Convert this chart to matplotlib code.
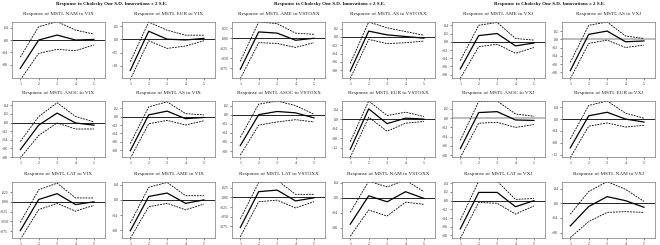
import matplotlib
matplotlib.use("Agg")
import matplotlib.pyplot as plt

plt.rcParams['font.family'] = ['Liberation Serif', 'DejaVu Serif']

periods = [1, 2, 3, 4, 5]
group_title = "Response to Cholesky One S.D. Innovations \u00b1 2 S.E."

# ---- Group 1 (VIX) ----
nam_vix_title = "Response of MSTL NAM to VIX"
nam_vix_resp = [-0.091, 0.000, 0.016, 0.000, 0.002]
nam_vix_hi = [-0.055, 0.043, 0.059, 0.032, 0.019]
nam_vix_lo = [-0.128, -0.043, -0.030, -0.034, -0.016]
nam_vix_ticks = [0.04, 0.00, -0.04, -0.08]

eur_vix_title = "Response of MSTL EUR to VIX"
eur_vix_resp = [-0.117, 0.031, 0.001, -0.002, 0.004]
eur_vix_hi = [-0.084, 0.066, 0.035, 0.016, 0.016]
eur_vix_lo = [-0.152, -0.005, -0.034, -0.025, -0.005]
eur_vix_ticks = [0.05, 0.00, -0.05, -0.10]

asoc_vix_title = "Response of MSTL ASOC to VIX"
asoc_vix_resp = [-0.063, -0.006, 0.022, -0.001, -0.006]
asoc_vix_hi = [-0.044, 0.014, 0.046, 0.014, 0.0015]
asoc_vix_lo = [-0.082, -0.030, -0.001, -0.015, -0.015]
asoc_vix_ticks = [0.04, 0.02, 0.00, -0.02, -0.04, -0.06, -0.08]

as_vix_title = "Response of MSTL AS to VIX"
as_vix_resp = [-0.081, 0.004, 0.013, -0.005, -0.002]
as_vix_hi = [-0.064, 0.023, 0.035, 0.007, 0.004]
as_vix_lo = [-0.099, -0.017, -0.009, -0.020, -0.010]
as_vix_ticks = [0.02, 0.00, -0.02, -0.04, -0.06, -0.08]

lat_vix_title = "Response of MSTL LAT to VIX"
lat_vix_resp = [-0.074, 0.006, 0.021, -0.007, 0.000]
lat_vix_hi = [-0.053, 0.031, 0.048, 0.010, 0.010]
lat_vix_lo = [-0.097, -0.020, -0.004, -0.024, -0.009]
lat_vix_ticks = [0.025, 0.000, -0.025, -0.050, -0.075]

ame_vix_title = "Response of MSTL AME to VIX"
ame_vix_resp = [-0.081, 0.009, 0.018, -0.009, 0.000]
ame_vix_hi = [-0.061, 0.033, 0.046, 0.011, 0.011]
ame_vix_lo = [-0.101, -0.018, -0.009, -0.026, -0.011]
ame_vix_ticks = [0.04, 0.00, -0.04, -0.08]

# ---- Group 2 (VSTOXX) ----
ame_vst_title = "Response of MSTL AME to VSTOXX"
ame_vst_resp = [-0.078, 0.016, 0.013, -0.005, 0.000]
ame_vst_hi = [-0.058, 0.041, 0.037, 0.013, 0.010]
ame_vst_lo = [-0.102, -0.011, -0.013, -0.023, -0.011]
ame_vst_ticks = [0.025, 0.000, -0.025, -0.050, -0.075]

as_vst_title = "Response of MSTL AS to VSTOXX"
as_vst_resp = [-0.082, 0.014, 0.005, 0.001, -0.003]
as_vst_hi = [-0.064, 0.036, 0.022, 0.013, 0.004]
as_vst_lo = [-0.100, -0.006, -0.016, -0.014, -0.010]
as_vst_ticks = [0.02, 0.00, -0.02, -0.04, -0.06, -0.08]

asoc_vst_title = "Response of MSTL ASOC to VSTOXX"
asoc_vst_resp = [-0.068, 0.000, 0.007, 0.004, -0.007]
asoc_vst_hi = [-0.050, 0.023, 0.030, 0.020, 0.001]
asoc_vst_lo = [-0.089, -0.023, -0.016, -0.011, -0.016]
asoc_vst_ticks = [0.02, 0.00, -0.02, -0.04, -0.06, -0.08]

eur_vst_title = "Response of MSTL EUR to VSTOXX"
eur_vst_resp = [-0.127, 0.043, -0.019, 0.004, 0.000]
eur_vst_hi = [-0.095, 0.076, 0.015, 0.029, 0.011]
eur_vst_lo = [-0.160, 0.008, -0.051, -0.017, -0.010]
eur_vst_ticks = [0.04, 0.00, -0.04, -0.08, -0.12]

lat_vst_title = "Response of MSTL LAT to VSTOXX"
lat_vst_resp = [-0.078, 0.015, 0.019, -0.009, -0.001]
lat_vst_hi = [-0.056, 0.039, 0.045, 0.008, 0.008]
lat_vst_lo = [-0.102, -0.011, -0.007, -0.027, -0.011]
lat_vst_ticks = [0.025, 0.000, -0.025, -0.050, -0.075]

nam_vst_title = "Response of MSTL NAM to VSTOXX"
nam_vst_resp = [-0.071, 0.005, -0.011, 0.016, -0.002]
nam_vst_hi = [-0.039, 0.044, 0.029, 0.047, 0.016]
nam_vst_lo = [-0.103, -0.033, -0.049, -0.012, -0.018]
nam_vst_ticks = [0.04, 0.00, -0.04, -0.08]

# ---- Group 3 (VXJ) ----
ame_vxj_title = "Response of MSTL AME to VXJ"
ame_vxj_resp = [-0.066, 0.015, 0.020, -0.010, -0.003]
ame_vxj_hi = [-0.046, 0.040, 0.047, 0.008, 0.004]
ame_vxj_lo = [-0.089, -0.012, -0.006, -0.028, -0.014]
ame_vxj_ticks = [0.04, 0.02, 0.00, -0.02, -0.04, -0.06, -0.08]

as_vxj_title = "Response of MSTL AS to VXJ"
as_vxj_resp = [-0.076, 0.012, 0.020, -0.006, -0.004]
as_vxj_hi = [-0.056, 0.034, 0.042, 0.008, 0.002]
as_vxj_lo = [-0.096, -0.010, -0.002, -0.020, -0.014]
as_vxj_ticks = [0.02, 0.00, -0.02, -0.04, -0.06, -0.08]

asoc_vxj_title = "Response of MSTL ASOC to VXJ"
asoc_vxj_resp = [-0.066, 0.012, 0.014, -0.004, -0.005]
asoc_vxj_hi = [-0.048, 0.036, 0.037, 0.009, 0.004]
asoc_vxj_lo = [-0.085, -0.011, -0.009, -0.020, -0.014]
asoc_vxj_ticks = [0.02, 0.00, -0.02, -0.04, -0.06, -0.08]

eur_vxj_title = "Response of MSTL EUR to VXJ"
eur_vxj_resp = [-0.097, 0.011, 0.023, 0.000, -0.010]
eur_vxj_hi = [-0.067, 0.046, 0.061, 0.020, 0.003]
eur_vxj_lo = [-0.130, -0.024, -0.013, -0.027, -0.021]
eur_vxj_ticks = [0.04, 0.00, -0.04, -0.08, -0.12]

lat_vxj_title = "Response of MSTL LAT to VXJ"
lat_vxj_resp = [-0.065, 0.019, 0.019, -0.014, 0.000]
lat_vxj_hi = [-0.045, 0.045, 0.045, 0.003, 0.005]
lat_vxj_lo = [-0.087, -0.004, -0.006, -0.031, -0.012]
lat_vxj_ticks = [0.04, 0.02, 0.00, -0.02, -0.04, -0.06, -0.08]

nam_vxj_title = "Response of MSTL NAM to VXJ"
nam_vxj_resp = [-0.062, -0.009, 0.018, 0.007, -0.011]
nam_vxj_hi = [-0.030, 0.032, 0.059, 0.038, 0.005]
nam_vxj_lo = [-0.094, -0.050, -0.025, -0.023, -0.025]
nam_vxj_ticks = [0.04, 0.00, -0.04, -0.08]

# y-limits per panel (bottom, top)
ylims = {
    nam_vix_title: (-0.122, 0.058), eur_vix_title: (-0.146, 0.066),
    asoc_vix_title: (-0.078, 0.050), as_vix_title: (-0.096, 0.037),
    lat_vix_title: (-0.093, 0.051), ame_vix_title: (-0.100, 0.047),
    ame_vst_title: (-0.100, 0.041), as_vst_title: (-0.099, 0.036),
    asoc_vst_title: (-0.093, 0.030), eur_vst_title: (-0.159, 0.076),
    lat_vst_title: (-0.105, 0.040), nam_vst_title: (-0.108, 0.042),
    ame_vxj_title: (-0.088, 0.048), as_vxj_title: (-0.094, 0.042),
    asoc_vxj_title: (-0.084, 0.037), eur_vxj_title: (-0.128, 0.061),
    lat_vxj_title: (-0.086, 0.043), nam_vxj_title: (-0.095, 0.058),
}
gray_zero = {as_vxj_title, asoc_vxj_title}

panels = [
    # row, col, title, resp, hi, lo, ticks
    (0, 0, nam_vix_title, nam_vix_resp, nam_vix_hi, nam_vix_lo, nam_vix_ticks),
    (0, 1, eur_vix_title, eur_vix_resp, eur_vix_hi, eur_vix_lo, eur_vix_ticks),
    (1, 0, asoc_vix_title, asoc_vix_resp, asoc_vix_hi, asoc_vix_lo, asoc_vix_ticks),
    (1, 1, as_vix_title, as_vix_resp, as_vix_hi, as_vix_lo, as_vix_ticks),
    (2, 0, lat_vix_title, lat_vix_resp, lat_vix_hi, lat_vix_lo, lat_vix_ticks),
    (2, 1, ame_vix_title, ame_vix_resp, ame_vix_hi, ame_vix_lo, ame_vix_ticks),
    (0, 2, ame_vst_title, ame_vst_resp, ame_vst_hi, ame_vst_lo, ame_vst_ticks),
    (0, 3, as_vst_title, as_vst_resp, as_vst_hi, as_vst_lo, as_vst_ticks),
    (1, 2, asoc_vst_title, asoc_vst_resp, asoc_vst_hi, asoc_vst_lo, asoc_vst_ticks),
    (1, 3, eur_vst_title, eur_vst_resp, eur_vst_hi, eur_vst_lo, eur_vst_ticks),
    (2, 2, lat_vst_title, lat_vst_resp, lat_vst_hi, lat_vst_lo, lat_vst_ticks),
    (2, 3, nam_vst_title, nam_vst_resp, nam_vst_hi, nam_vst_lo, nam_vst_ticks),
    (0, 4, ame_vxj_title, ame_vxj_resp, ame_vxj_hi, ame_vxj_lo, ame_vxj_ticks),
    (0, 5, as_vxj_title, as_vxj_resp, as_vxj_hi, as_vxj_lo, as_vxj_ticks),
    (1, 4, asoc_vxj_title, asoc_vxj_resp, asoc_vxj_hi, asoc_vxj_lo, asoc_vxj_ticks),
    (1, 5, eur_vxj_title, eur_vxj_resp, eur_vxj_hi, eur_vxj_lo, eur_vxj_ticks),
    (2, 4, lat_vxj_title, lat_vxj_resp, lat_vxj_hi, lat_vxj_lo, lat_vxj_ticks),
    (2, 5, nam_vxj_title, nam_vxj_resp, nam_vxj_hi, nam_vxj_lo, nam_vxj_ticks),
]

W, H = 660, 245
fig = plt.figure(figsize=(W / 100, H / 100), dpi=100)
fig.patch.set_facecolor('white')

col_left = [12, 122, 232, 342, 452, 562]
col_w = 93
row_top = [22, 101, 182]
row_h = 56


def fmt(v, dec):
    s = f"{v:.{dec}f}"
    s = s.replace("0.", ".", 1)
    return s


for r, c, title, resp, hi, lo, ticks in panels:
    l = col_left[c]
    t = row_top[r]
    ax = fig.add_axes([l / W, 1 - (t + row_h) / H, col_w / W, row_h / H])
    ax.set_xlim(0.55, 5.6)
    ax.set_ylim(*ylims[title])
    zc = '#b0b0b0' if title in gray_zero else 'black'
    zl = 1.2 if title in gray_zero else 0.6
    ax.axhline(0, color=zc, lw=zl, zorder=1)
    ax.plot(periods, resp, color='black', lw=0.9, zorder=3)
    ax.plot(periods, hi, color='black', lw=0.6, ls=(0, (2.2, 1.2)), zorder=2)
    ax.plot(periods, lo, color='black', lw=0.6, ls=(0, (2.2, 1.2)), zorder=2)
    dec = 3 if any(abs(round(v * 100) - v * 100) > 1e-6 for v in ticks) else 2
    ax.set_yticks(ticks)
    ax.set_yticklabels([fmt(v, dec) for v in ticks])
    ax.set_xticks(periods)
    ax.set_xticklabels([str(p) for p in periods])
    ax.tick_params(axis='both', labelsize=2.8, length=1.5, width=0.4,
                   pad=1.2, colors='#333333')
    for sp in ax.spines.values():
        sp.set_linewidth(0.5)
        sp.set_color('#777777')
    ax.text(0.5, 1.0 + 8 / row_h, title, transform=ax.transAxes,
            ha='center', va='center', fontsize=3.8, color='#222222')

for g, cx in enumerate([112, 330, 550]):
    fig.text(cx / W, 1 - 4.5 / H, group_title, ha='center', va='center',
             fontsize=3.6, fontweight='bold', color='#111111')

fig.savefig('out.png', dpi=100, facecolor='white')
